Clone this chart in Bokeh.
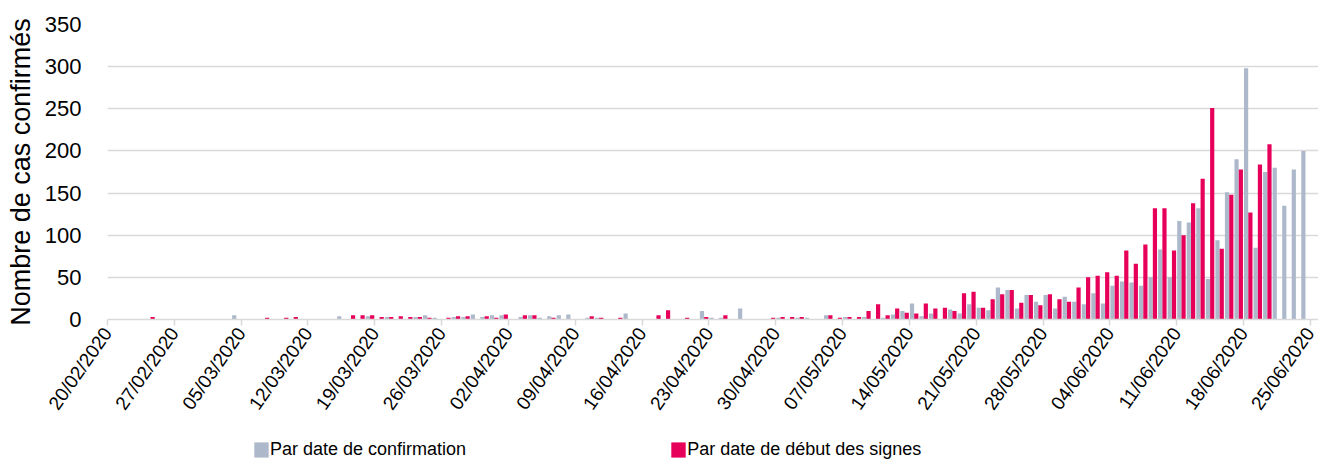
import pandas as pd
from bokeh.plotting import figure
from bokeh.layouts import column
from bokeh.models import ColumnDataSource, FixedTicker, Legend, LegendItem, Range1d
from bokeh.embed import file_html
from bokeh.resources import INLINE

start_date = "2020-02-20"
n_days = 126
dates = pd.date_range(start_date, periods=n_days, freq="D")

# Par date de confirmation (one value per day from 20/02/2020 to 24/06/2020)
confirmation = [
    0, 0, 0, 0, 0, 0, 0, 0, 0, 0,      # 20/02 - 29/02
    0, 0, 0, 5, 0, 0, 0, 0, 0, 0,      # 01/03 - 10/03
    0, 0, 0, 0, 4, 0, 0, 4, 0, 3,      # 11/03 - 20/03
    0, 0, 3, 5, 2, 0, 3, 3, 6, 3,      # 21/03 - 30/03
    5, 5, 0, 3, 5, 2, 4, 5, 6, 0,      # 31/03 - 09/04
    2, 2, 0, 0, 7, 0, 0, 0, 0, 0,      # 10/04 - 19/04
    0, 0, 10, 2, 2, 0, 13, 0, 0, 0,    # 20/04 - 29/04
    2, 0, 2, 2, 0, 5, 0, 3, 0, 3,      # 30/04 - 09/05
    0, 2, 6, 10, 19, 4, 7, 0, 12, 7,   # 10/05 - 19/05
    18, 14, 11, 38, 35, 13, 29, 21, 29, 13,   # 20/05 - 29/05
    27, 21, 18, 31, 19, 40, 45, 44, 40, 50,   # 30/05 - 08/06
    83, 50, 117, 115, 132, 48, 94, 151, 190, 298,  # 09/06 - 18/06
    85, 175, 180, 135, 178, 200,       # 19/06 - 24/06
]

# Par date de début des signes
debut_signes = [
    0, 0, 0, 0, 3, 0, 0, 0, 0, 0,
    0, 0, 0, 0, 0, 0, 2, 0, 2, 3,
    0, 0, 0, 0, 0, 5, 5, 5, 3, 3,
    4, 3, 3, 2, 0, 2, 4, 4, 0, 4,
    2, 6, 0, 5, 5, 0, 2, 0, 0, 0,
    4, 2, 0, 2, 0, 0, 0, 5, 11, 0,
    2, 0, 3, 0, 5, 0, 0, 0, 0, 2,
    3, 3, 3, 0, 0, 5, 2, 3, 3, 10,
    18, 5, 13, 8, 7, 19, 13, 14, 10, 31,
    33, 14, 24, 30, 35, 20, 29, 17, 30, 24,
    21, 38, 50, 52, 56, 52, 82, 66, 89, 132,
    132, 82, 100, 138, 167, 251, 84, 148, 178, 127,
    184, 208, 0, 0, 0, 0,
]

tick_labels = ["20/02/2020", "27/02/2020", "05/03/2020", "12/03/2020", "19/03/2020",
               "26/03/2020", "02/04/2020", "09/04/2020", "16/04/2020", "23/04/2020",
               "30/04/2020", "07/05/2020", "14/05/2020", "21/05/2020", "28/05/2020",
               "04/06/2020", "11/06/2020", "18/06/2020", "25/06/2020"]
y_ticks = [0, 50, 100, 150, 200, 250, 300, 350]

series_names = ["Par date de confirmation", "Par date de début des signes"]
series_colors = ["#ADB9CA", "#E6005A"]

start = pd.Timestamp(start_date)
day_index = [(d - start).days for d in dates]
tick_pos = [(pd.to_datetime(t, format="%d/%m/%Y") - start).days for t in tick_labels]

bar_w = 0.44
half = 0.225
src_c = ColumnDataSource(dict(x=[i + 0.5 - half for i in day_index], top=confirmation))
src_d = ColumnDataSource(dict(x=[i + 0.5 + half for i in day_index], top=debut_signes))

p = figure(frame_width=1211, frame_height=295, output_backend="svg", toolbar_location=None,
           x_range=Range1d(0, 126.86), y_range=Range1d(0, 350),
           min_border_left=107, min_border_right=0, min_border_top=24,
           min_border_bottom=114)
p.outline_line_color = None
p.background_fill_color = "white"
p.border_fill_color = "white"

r1 = p.vbar(x="x", top="top", width=bar_w, bottom=0, source=src_c,
            fill_color=series_colors[0], line_color=None)
r2 = p.vbar(x="x", top="top", width=bar_w, bottom=0, source=src_d,
            fill_color=series_colors[1], line_color=None)

font = "Liberation Sans"
p.xgrid.grid_line_color = None
p.ygrid.grid_line_color = "#D9D9D9"
p.ygrid.grid_line_width = 1.5
p.ygrid.ticker = FixedTicker(ticks=y_ticks)

xa = p.xaxis[0]
xa.ticker = FixedTicker(ticks=tick_pos)
xa.major_label_overrides = {tp: lab for tp, lab in zip(tick_pos, tick_labels)}
xa.axis_line_color = "#D9D9D9"
xa.axis_line_width = 1.5
xa.major_tick_line_color = "#D9D9D9"
xa.major_tick_line_width = 1.5
xa.major_tick_out = 6
xa.major_tick_in = 0
xa.minor_tick_line_color = None
xa.major_label_orientation = 0.96
xa.major_label_text_font = font
xa.major_label_text_font_size = "19px"
xa.major_label_text_color = "#000000"
xa.major_label_standoff = 4

ya = p.yaxis[0]
ya.ticker = FixedTicker(ticks=y_ticks)
ya.axis_line_color = None
ya.major_tick_line_color = None
ya.minor_tick_line_color = None
ya.major_label_text_font = font
ya.major_label_text_font_size = "22px"
ya.major_label_text_color = "#000000"
ya.major_label_standoff = 20
ya.axis_label = "Nombre de cas confirmés"
ya.axis_label_text_font = font
ya.axis_label_text_font_size = "27px"
ya.axis_label_text_font_style = "normal"
ya.axis_label_text_color = "#000000"
ya.axis_label_standoff = 6

# Legend strip below the chart (its frame is aligned with the chart's frame)
lg = figure(width=1318, height=27, output_backend="svg", toolbar_location=None,
            x_range=Range1d(-20, -19), y_range=Range1d(0, 1),
            x_axis_location=None, y_axis_location=None,
            min_border_left=0, min_border_right=0, min_border_top=0, min_border_bottom=0)
lg.outline_line_color = None
lg.grid.grid_line_color = None
lg.background_fill_color = "white"
lg.border_fill_color = "white"
l1 = lg.vbar(x="x", top="top", width=bar_w, source=src_c,
             fill_color=series_colors[0], line_color=None)
l2 = lg.vbar(x="x", top="top", width=bar_w, source=src_d,
             fill_color=series_colors[1], line_color=None)
legend = Legend(items=[LegendItem(label=series_names[0], renderers=[l1]),
                       LegendItem(label=series_names[1], renderers=[l2])],
                orientation="horizontal", location=(145, 0),
                glyph_width=18, glyph_height=19, label_standoff=0, spacing=203,
                padding=0, margin=0, border_line_color=None,
                background_fill_alpha=0,
                label_text_font=font, label_text_font_size="18px",
                label_text_color="#000000", label_height=20)
lg.add_layout(legend, "center")

layout = column(p, lg, spacing=0)
open("out.html", "w").write(file_html(layout, INLINE))
